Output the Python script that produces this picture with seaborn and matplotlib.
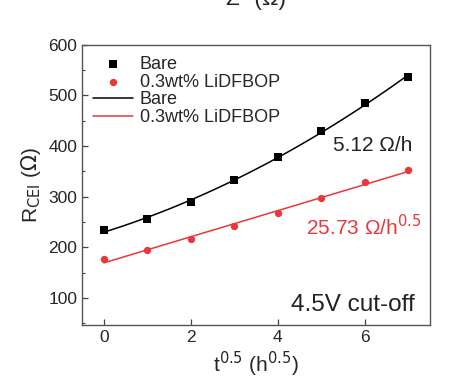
import numpy as np
import pandas as pd
import matplotlib
matplotlib.use("Agg")
import matplotlib.pyplot as plt
import seaborn as sns
from matplotlib.ticker import MultipleLocator

# data
t_half = [0, 1, 2, 3, 4, 5, 6, 7]
r_bare = [234, 256, 290, 333, 379, 429, 485, 537]
r_lidfbop = [178, 194, 217, 242, 268, 297, 329, 353]

sns.set_style("ticks")
plt.rcParams["font.family"] = ["Liberation Sans", "DejaVu Sans"]

df = pd.DataFrame({"t": t_half, "Bare": r_bare, "0.3wt% LiDFBOP": r_lidfbop})

fig, ax = plt.subplots(figsize=(4.49, 3.9), dpi=100)
fig.subplots_adjust(left=0.183, right=0.958, top=0.885, bottom=0.167)

# fits: quadratic for bare, linear for LiDFBOP
xs = np.linspace(0, 7, 100)
fit_bare = np.polyval(np.polyfit(t_half, r_bare, 2), xs)
fit_li = np.polyval(np.polyfit(t_half, r_lidfbop, 1), xs)

sns.scatterplot(data=df, x="t", y="Bare", marker="s", color="black", s=28,
                edgecolor="black", linewidth=0, ax=ax, label="Bare", zorder=3)
sns.scatterplot(data=df, x="t", y="0.3wt% LiDFBOP", marker="o", color="#e8383d", s=28,
                edgecolor="#e8383d", linewidth=0, ax=ax, label="0.3wt% LiDFBOP", zorder=3)
sns.lineplot(x=xs, y=fit_bare, color="black", lw=1.1, ax=ax, label="Bare")
sns.lineplot(x=xs, y=fit_li, color="#e8383d", lw=1.1, ax=ax, label="0.3wt% LiDFBOP")

ax.set_xlim(-0.5, 7.5)
ax.set_ylim(47, 600)
ax.xaxis.set_major_locator(MultipleLocator(2))
ax.yaxis.set_major_locator(MultipleLocator(100))
ax.yaxis.set_minor_locator(MultipleLocator(50))
ax.tick_params(direction="in", labelsize=12.5, length=4, width=0.9, color="#444444")
ax.tick_params(which="minor", direction="in", length=2.5, width=0.8, color="#444444")
for sp in ax.spines.values():
    sp.set_color("#555555")
    sp.set_linewidth(1.0)

ax.set_xlabel("t$^{0.5}$ (h$^{0.5}$)", fontsize=15)
ax.set_ylabel("R$_{\\rm CEI}$ ($\\Omega$)", fontsize=15)

ax.legend(loc="upper left", frameon=False, fontsize=13, handlelength=2.2,
          handletextpad=0.4, labelspacing=0.05, borderaxespad=0.2)

ax.text(0.95, 0.62, "5.12 Ω/h", transform=ax.transAxes, ha="right", fontsize=15, color="#222222")
ax.text(0.975, 0.32, "25.73 Ω/h$^{0.5}$", transform=ax.transAxes, ha="right", fontsize=15, color="#e8383d")
ax.text(0.955, 0.05, "4.5V cut-off", transform=ax.transAxes, ha="right", fontsize=17.5, color="#222222")

fig.text(0.57, 1.0, "Z'' (Ω)", ha="center", va="center", fontsize=16, color="#222222")

fig.savefig("out.png", dpi=100)
